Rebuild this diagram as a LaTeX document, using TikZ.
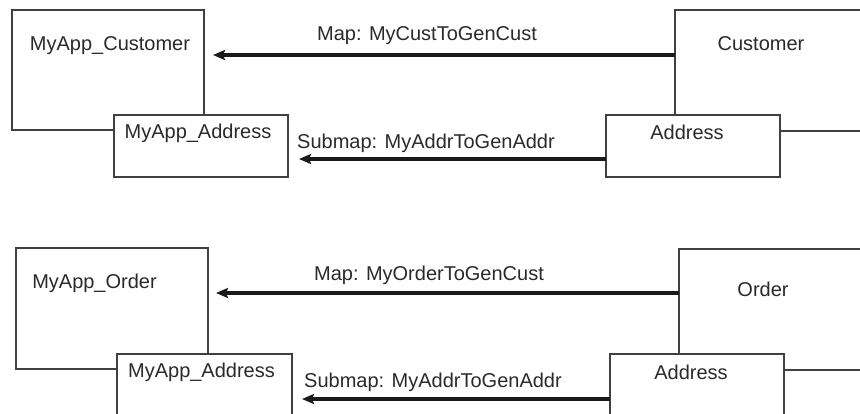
\documentclass[tikz,border=0pt]{standalone}
\usepackage{fontspec}
\setmainfont{Liberation Sans}
\usetikzlibrary{arrows.meta}
\definecolor{boxline}{HTML}{404040}
\definecolor{arrowcol}{HTML}{1A1A1A}
\definecolor{txt}{HTML}{2A2A2A}
\tikzset{
  box/.style={draw=boxline, line width=1.3pt, fill=white, inner sep=0pt, outer sep=0pt, rectangle},
  lbl/.style={anchor=base, inner sep=0pt, text=txt, font=\fontsize{20}{23}\selectfont},
  arr/.style={draw=arrowcol, line width=3.4pt, -{Stealth[length=12pt,width=10pt,inset=2pt]}}
}
\begin{document}
\begin{tikzpicture}[x=1pt,y=-1pt]
\useasboundingbox (0,0) rectangle (860,413);
\clip (0,0) rectangle (860,413);
% top group
\node[box, minimum width=192pt, minimum height=120pt] (appcust) at (108,70) {};
\node[box, minimum width=205pt, minimum height=121pt] (cust) at (777.5,70.5) {};
\node[box, minimum width=174pt, minimum height=62pt] (appaddr1) at (201,146) {};
\node[box, minimum width=174pt, minimum height=62pt] (addr1) at (693,146) {};
\node[lbl] (tappcust) at (110,50) {MyApp\_Customer};
\node[lbl] (tcust) at (761,50) {Customer};
\node[lbl] (tappaddr1) at (198,138) {MyApp\_Address};
\node[lbl] (taddr1) at (687,139) {Address};
\coordinate (tip1) at (213,55);
\coordinate (tip2) at (299,159);
\draw[arr] (cust.west |- tip1) -- (tip1);
\draw[arr] (addr1.west |- tip2) -- (tip2);
\node[lbl] (map1) at (427,40) {Map: MyCustToGenCust};
\node[lbl] (sub1) at (426,148) {Submap: MyAddrToGenAddr};
% bottom group
\node[box, minimum width=192pt, minimum height=121pt] (apporder) at (112,308.5) {};
\node[box, minimum width=201pt, minimum height=121pt] (order) at (779.5,309.5) {};
\node[box, minimum width=175pt, minimum height=76pt] (appaddr2) at (204.5,392) {};
\node[box, minimum width=174pt, minimum height=76pt] (addr2) at (697,392) {};
\node[lbl] (tapporder) at (94.5,288) {MyApp\_Order};
\node[lbl] (torder) at (763,296) {Order};
\node[lbl] (tappaddr2) at (201.5,377) {MyApp\_Address};
\node[lbl] (taddr2) at (691,379) {Address};
\coordinate (tip3) at (216,293);
\coordinate (tip4) at (302,399);
\draw[arr] (order.west |- tip3) -- (tip3);
\draw[arr] (addr2.west |- tip4) -- (tip4);
\node[lbl] (map2) at (429,280) {Map: MyOrderToGenCust};
\node[lbl] (sub2) at (433,387) {Submap: MyAddrToGenAddr};
\end{tikzpicture}
\end{document}
